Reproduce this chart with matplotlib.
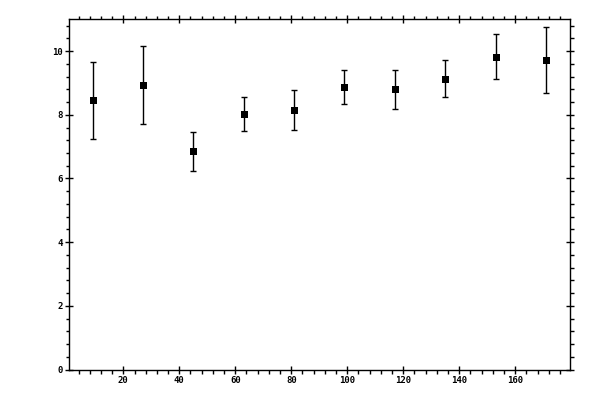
import matplotlib
matplotlib.use("Agg")
import matplotlib.pyplot as plt
from matplotlib.ticker import MultipleLocator

x_values = [9, 27, 45, 63, 81, 99, 117, 135, 153, 171]
y_values = [8.46, 8.93, 6.85, 8.02, 8.14, 8.87, 8.80, 9.14, 9.82, 9.72]
y_errors = [1.21, 1.23, 0.61, 0.54, 0.63, 0.54, 0.61, 0.58, 0.71, 1.04]

fig = plt.figure(figsize=(6, 4), dpi=100)
ax = fig.add_axes([69.3 / 600, 1 - 369.5 / 400, (570.3 - 69.3) / 600, (369.5 - 19.3) / 400])

px = 72 / 100.0
ax.errorbar(x_values, y_values, yerr=y_errors, fmt='none', ecolor='black',
            elinewidth=1.4 * px, capsize=2.8 * px, capthick=1.4 * px)
ax.plot(x_values, y_values, linestyle='none', marker='s', color='black',
        markersize=7.0 * px, markeredgewidth=0)

ax.set_xlim(0.7, 179.7)
ax.set_ylim(0, 11)
ax.xaxis.set_major_locator(MultipleLocator(20))
ax.xaxis.set_minor_locator(MultipleLocator(4))
ax.yaxis.set_major_locator(MultipleLocator(2))
ax.yaxis.set_minor_locator(MultipleLocator(0.4))

for s in ax.spines.values():
    s.set_linewidth(1.4 * px)

ax.tick_params(which='major', direction='inout', length=8 * px, width=1.4 * px,
               top=True, right=True, bottom=True, left=True,
               labelsize=6.5, pad=2.0)
ax.tick_params(which='minor', direction='out', length=3.5 * px, width=1.4 * px,
               top=True, right=True, bottom=True, left=True)
for lab in ax.get_xticklabels() + ax.get_yticklabels():
    lab.set_family('DejaVu Sans Mono')
    lab.set_fontweight('bold')

fig.savefig("out.png", dpi=100)
